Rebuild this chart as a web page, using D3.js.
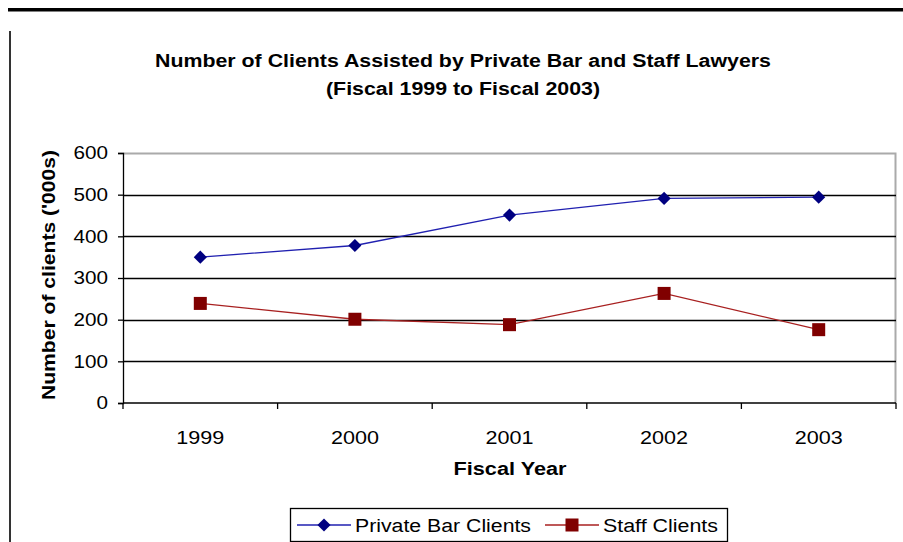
<!DOCTYPE html>
<html lang="en">
<head>
<meta charset="UTF-8">
<title>Number of Clients</title>
<style>
  body { margin: 0; background: #fff; }
  text { font-family: "Liberation Sans", Arial, sans-serif; }
</style>
</head>
<body>
<svg width="903" height="542"></svg>
<script src="https://cdn.jsdelivr.net/npm/d3@7"></script>
<script>
// data
var years = ["1999", "2000", "2001", "2002", "2003"];
var privateBar = [350, 378, 451, 491, 494];
var staff = [239, 201, 188, 263, 176];
var yTicks = [0, 100, 200, 300, 400, 500, 600];

var svg = d3.select("svg");
var margin = {top: 153, left: 123, right: 7, bottom: 139};
var W = 903, H = 542;
var w = W - margin.left - margin.right, h = H - margin.top - margin.bottom;

// the old chart font is wide, so stretch text to the measured widths
function stretch(sel, len) {
  sel.attr("textLength", len).attr("lengthAdjust", "spacingAndGlyphs");
}

// page decoration: thick rule on top, thin rule on the left
svg.append("rect").attr("x", 8).attr("y", 8).attr("width", 895).attr("height", 3.5).attr("fill", "#000");
svg.append("rect").attr("x", 9).attr("y", 31).attr("width", 2).attr("height", 511).attr("fill", "#333");

var g = svg.append("g").attr("transform", "translate(" + margin.left + "," + margin.top + ")");

var x = d3.scaleBand().domain(years).range([0, w]);
var y = d3.scaleLinear().domain([0, 600]).range([h, 0]);

// plot border (grey top and right)
g.append("path")
  .attr("d", "M0,0.5H" + (w - 0.5) + "V" + h)
  .attr("fill", "none").attr("stroke", "#aaa").attr("stroke-width", 2);

// gridlines
g.selectAll(".grid").data(yTicks.slice(1, -1)).enter().append("line")
  .attr("x1", 0).attr("x2", w)
  .attr("y1", function(d) { return Math.round(y(d)) + 0.5; })
  .attr("y2", function(d) { return Math.round(y(d)) + 0.5; })
  .attr("stroke", "#000").attr("stroke-width", 1.3);

// y axis
var yAxis = d3.axisLeft(y).tickValues(yTicks).tickSize(5).tickPadding(10);
var ya = g.append("g").call(yAxis);
ya.select(".domain").attr("stroke", "#000").attr("stroke-width", 1.3);
ya.selectAll("line").attr("stroke-width", 1.3);
ya.selectAll("text").attr("font-size", 18).attr("fill", "#000").attr("font-family", null)
  .each(function(d) { stretch(d3.select(this), String(d).length * 11.5); });

// x axis: ticks at band boundaries
var xa = g.append("g").attr("transform", "translate(0," + h + ")");
xa.append("line").attr("x1", 0).attr("x2", w).attr("stroke", "#000").attr("stroke-width", 1.3);
xa.selectAll(".tk").data(years.concat(["end"])).enter().append("line")
  .attr("x1", function(d, i) { return i * x.step(); })
  .attr("x2", function(d, i) { return i * x.step(); })
  .attr("y1", 0).attr("y2", 6).attr("stroke", "#000").attr("stroke-width", 1.3);
xa.selectAll(".lbl").data(years).enter().append("text")
  .attr("x", function(d) { return x(d) + x.bandwidth() / 2; })
  .attr("y", 41).attr("text-anchor", "middle").attr("font-size", 18)
  .attr("fill", "#000").text(function(d) { return d; })
  .call(stretch, 48);

// lines
var line = d3.line()
  .x(function(d, i) { return x(years[i]) + x.bandwidth() / 2; })
  .y(function(d) { return y(d); });

var blue = "#000080", red = "#800000";
g.append("path").datum(privateBar).attr("d", line).attr("fill", "none").attr("stroke", "#2020b0").attr("stroke-width", 1.3);
g.append("path").datum(staff).attr("d", line).attr("fill", "none").attr("stroke", "#a82020").attr("stroke-width", 1.3);

var diamond = d3.symbol().type(d3.symbolDiamond2).size(110);
g.selectAll(".pb").data(privateBar).enter().append("path")
  .attr("d", diamond)
  .attr("transform", function(d, i) { return "translate(" + (x(years[i]) + x.bandwidth() / 2) + "," + y(d) + ")"; })
  .attr("fill", blue);
g.selectAll(".st").data(staff).enter().append("rect")
  .attr("x", function(d, i) { return x(years[i]) + x.bandwidth() / 2 - 6.5; })
  .attr("y", function(d) { return y(d) - 6.5; })
  .attr("width", 13).attr("height", 13).attr("fill", red);

// titles
svg.append("text").attr("x", 463).attr("y", 67).attr("text-anchor", "middle")
  .attr("font-size", 18).attr("font-weight", "bold")
  .text("Number of Clients Assisted by Private Bar and Staff Lawyers")
  .call(stretch, 616);
svg.append("text").attr("x", 463).attr("y", 95).attr("text-anchor", "middle")
  .attr("font-size", 18).attr("font-weight", "bold")
  .text("(Fiscal 1999 to Fiscal 2003)")
  .call(stretch, 274);
svg.append("text").attr("x", 510).attr("y", 475).attr("text-anchor", "middle")
  .attr("font-size", 18).attr("font-weight", "bold").text("Fiscal Year")
  .call(stretch, 113);
svg.append("text").attr("transform", "translate(55,275) rotate(-90)").attr("text-anchor", "middle")
  .attr("font-size", 18).attr("font-weight", "bold").text("Number of clients ('000s)")
  .call(stretch, 250);

// legend
var lg = svg.append("g");
lg.append("rect").attr("x", 290.5).attr("y", 508.5).attr("width", 437).attr("height", 33)
  .attr("fill", "#fff").attr("stroke", "#000").attr("stroke-width", 1.3);
var items = [
  {name: "Private Bar Clients", color: blue, lc: "#2020b0", x: 297, tl: 176},
  {name: "Staff Clients", color: red, lc: "#a82020", x: 545, tl: 115}
];
items.forEach(function(it) {
  lg.append("line").attr("x1", it.x).attr("x2", it.x + 54).attr("y1", 525).attr("y2", 525)
    .attr("stroke", it.lc).attr("stroke-width", 1.3);
  if (it.color === blue) {
    lg.append("path").attr("d", diamond).attr("transform", "translate(" + (it.x + 27) + ",525)").attr("fill", blue);
  } else {
    lg.append("rect").attr("x", it.x + 20.5).attr("y", 518.5).attr("width", 13).attr("height", 13).attr("fill", red);
  }
  lg.append("text").attr("x", it.x + 58).attr("y", 532).attr("font-size", 18).text(it.name)
    .call(stretch, it.tl);
});
</script>
</body>
</html>
